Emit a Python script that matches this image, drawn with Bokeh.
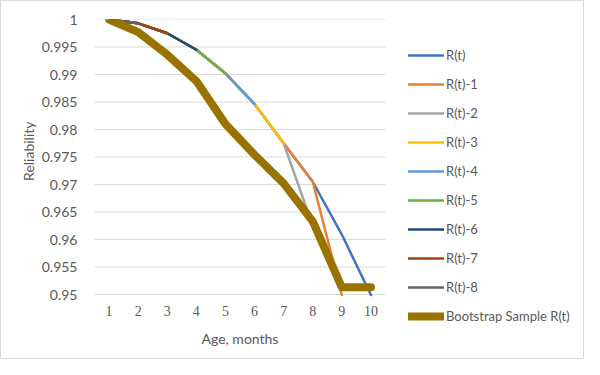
from bokeh.plotting import figure
from bokeh.models import (Range1d, FixedTicker, Legend, LegendItem, LabelSet, Label,
                          ColumnDataSource, Title)
from bokeh.embed import file_html
from bokeh.resources import INLINE

months = [1, 2, 3, 4, 5, 6, 7, 8, 9, 10]
x_labels = ["1", "2", "3", "4", "5", "6", "7", "8", "9", "10"]
y_ticks = [0.95, 0.955, 0.96, 0.965, 0.97, 0.975, 0.98, 0.985, 0.99, 0.995, 1.0]
y_labels = ["0.95", "0.955", "0.96", "0.965", "0.97", "0.975", "0.98", "0.985", "0.99", "0.995", "1"]

r_t   = [1.0, 0.9993, 0.9975, 0.9945, 0.9902, 0.9846, 0.9775, 0.9705, 0.9609, 0.9499]
r_t_1 = [1.0, 0.9993, 0.9975, 0.9945, 0.9902, 0.9846, 0.9775, 0.9705, 0.9499]
r_t_2 = [1.0, 0.9993, 0.9975, 0.9945, 0.9902, 0.9846, 0.9775, 0.9625]
r_t_3 = [1.0, 0.9993, 0.9975, 0.9945, 0.9902, 0.9846, 0.9775]
r_t_4 = [1.0, 0.9993, 0.9975, 0.9945, 0.9902, 0.9846]
r_t_5 = [1.0, 0.9993, 0.9975, 0.9945, 0.9902]
r_t_6 = [1.0, 0.9993, 0.9975, 0.9945]
r_t_7 = [1.0, 0.9993, 0.9975]
r_t_8 = [1.0, 0.9993]
bootstrap = [1.0, 0.9977, 0.9936, 0.9888, 0.9810, 0.9754, 0.9702, 0.9633, 0.9513, 0.9513]

series_names = ["R(t)", "R(t)-1", "R(t)-2", "R(t)-3", "R(t)-4", "R(t)-5",
                "R(t)-6", "R(t)-7", "R(t)-8", "Bootstrap Sample R(t)"]
series_values = [r_t, r_t_1, r_t_2, r_t_3, r_t_4, r_t_5, r_t_6, r_t_7, r_t_8, bootstrap]
series_colors = ["#4472C4", "#ED7D31", "#A5A5A5", "#FFC000", "#5B9BD5", "#70AD47",
                 "#264478", "#9E480E", "#636363", "#997300"]
series_widths = [2.5, 2.5, 2.5, 2.5, 2.5, 2.5, 2.5, 2.5, 2.5, 8]

FONT = "Lato"
TXT = "#595959"
GRID = "#D9D9D9"

# layout (pixels)
W, H = 584, 359
LEFT, TOP = 93, 18
PLOT_W, PLOT_H = 291, 275          # Excel plot area that holds the axis ranges
X_LO, X_HI = 0.5, 10.5
Y_LO, Y_HI = y_ticks[0], y_ticks[-1]
px_x = PLOT_W / (X_HI - X_LO)
px_y = PLOT_H / (Y_HI - Y_LO)
frame_w, frame_h = W - LEFT, H - TOP

p = figure(width=W, height=H, output_backend="svg", toolbar_location=None,
           x_range=Range1d(X_LO, X_LO + frame_w / px_x),
           y_range=Range1d(Y_HI - frame_h / px_y, Y_HI),
           x_axis_location=None,
           min_border_left=LEFT, min_border_right=0, min_border_top=TOP, min_border_bottom=0)
p.outline_line_color = None
p.background_fill_color = "white"
p.border_fill_color = "white"
p.styles = {"border": "1px solid #D9D9D9"}
p.xgrid.visible = False
p.ygrid.visible = False

# horizontal gridlines over the plot area only
p.segment(x0=X_LO, x1=X_HI, y0=y_ticks, y1=y_ticks, line_color=GRID, line_width=1)

# y axis
ya = p.yaxis[0]
ya.ticker = FixedTicker(ticks=y_ticks)
ya.major_label_overrides = {t: l for t, l in zip(y_ticks, y_labels)}
ya.major_tick_line_color = None
ya.minor_tick_line_color = None
ya.axis_line_color = None
ya.major_label_text_font = FONT
ya.major_label_text_font_size = "14px"
ya.major_label_text_color = TXT
ya.major_label_standoff = 11

p.add_layout(Title(text="Reliability", align="right", offset=102, standoff=4,
                   text_font=FONT, text_font_size="14px", text_color=TXT,
                   text_font_style="normal"), "left")

# x tick labels and x title
xsrc = ColumnDataSource(dict(x=months, y=[Y_LO] * len(months), text=x_labels))
p.add_layout(LabelSet(x="x", y="y", text="text", source=xsrc, y_offset=-16,
                      text_align="center", text_baseline="middle", text_font=FONT,
                      text_font_size="14px", text_color=TXT))
p.add_layout(Label(x=(X_LO + X_HI) / 2, y=Y_LO, text="Age, months", y_offset=-44,
                   text_align="center", text_baseline="middle", text_font=FONT,
                   text_font_size="14px", text_color=TXT))

# series
items = []
for name, vals, col, w in zip(series_names, series_values, series_colors, series_widths):
    r = p.line(months[:len(vals)], vals, line_color=col, line_width=w,
               line_join="round", line_cap="round")
    items.append(LegendItem(label=name, renderers=[r]))

legend = Legend(items=items, location=(314, 34), orientation="vertical",
                padding=0, margin=0, spacing=9, glyph_width=36, glyph_height=20,
                label_height=20, label_standoff=2, label_text_font=FONT,
                label_text_font_size="13px", label_text_color=TXT,
                border_line_color=None, background_fill_alpha=0)
p.add_layout(legend, "center")

open("out.html", "w").write(file_html(p, INLINE))
